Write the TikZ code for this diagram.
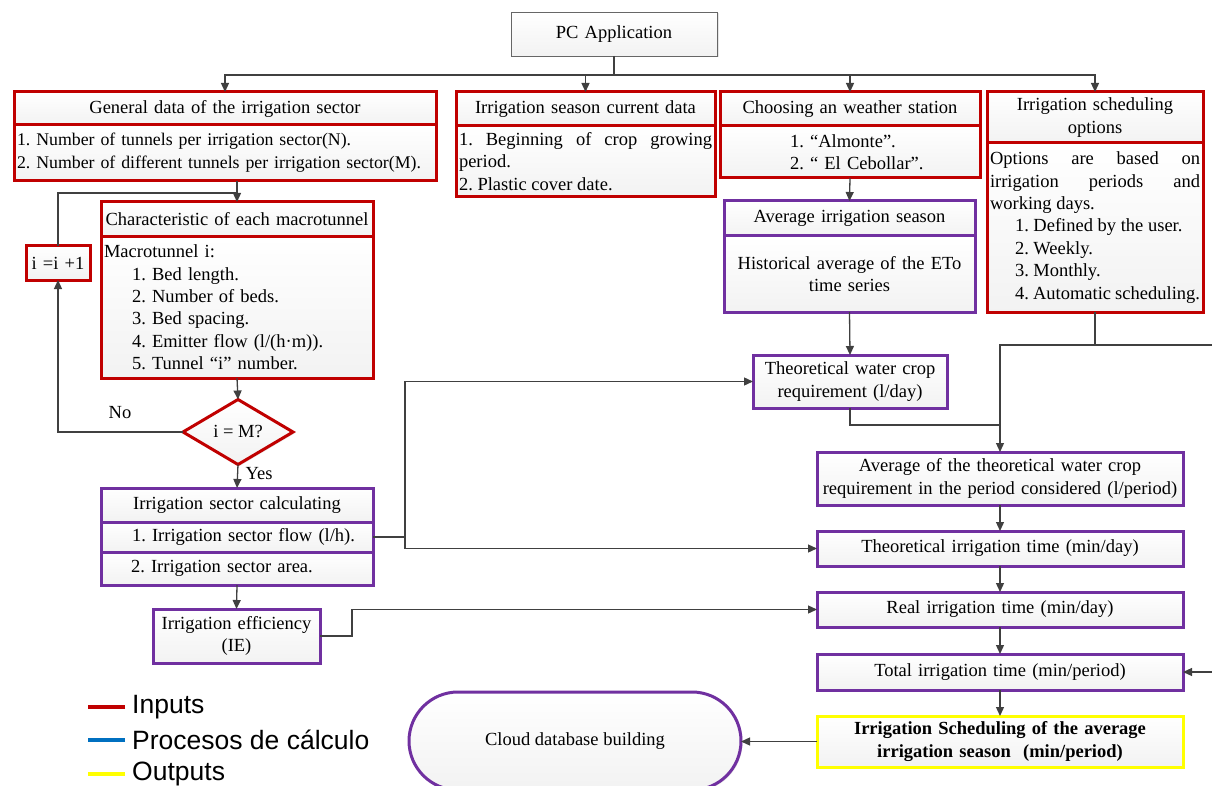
\documentclass[tikz,border=0pt]{standalone}
\usepackage{fontspec}
\setmainfont{Liberation Serif}
\setsansfont{Liberation Sans}
\usetikzlibrary{arrows.meta,shapes.geometric,shadows,positioning}
\definecolor{inred}{HTML}{C00000}
\definecolor{calcpurple}{HTML}{7030A0}
\definecolor{calcblue}{HTML}{0070C0}
\definecolor{outyellow}{HTML}{FFFF00}
\definecolor{linegray}{HTML}{404040}
\newcommand\fs{\fontsize{18.5}{22.4}\selectfont}
\newcommand\legfs{\sffamily\fontsize{26.5}{30}\selectfont}
\frenchspacing
\hyphenpenalty=10000
\tolerance=10000
\tikzset{
  box/.style={draw, line width=3pt, outer sep=0pt, inner xsep=3pt, inner ysep=1pt,
    top color=white, bottom color=gray!10, font=\fs, align=center,
    drop shadow={shadow xshift=1.5pt, shadow yshift=-1.5pt, opacity=0.2}},
  sz/.style 2 args={minimum width=#1pt, minimum height=#2pt, text width=#1pt-6pt},
  part/.style={anchor=north west},
  inbox/.style={box, draw=inred},
  calcbox/.style={box, draw=calcpurple},
  outbox/.style={box, draw=outyellow},
  wire/.style={draw=linegray, line width=1.3pt},
  flow/.style={wire, -{Triangle[length=9pt,width=8pt]}},
}
\begin{document}
\begin{tikzpicture}[x=1pt, y=-1pt]
  \useasboundingbox (0,0) rectangle (1212,786);
  % top
  \node[box, draw=linegray!80, line width=0.8pt, sz={206}{44}, part] (pc) at (511,12) {PC Application};
  % inputs
  \node[inbox, sz={422}{33}, part] (gen-h) at (14,92) {General data of the irrigation sector};
  \node[inbox, sz={422}{56}, part, align=left, font=\fontsize{17.8}{22.8}\selectfont] (gen-b) at (gen-h.south west)
    {1. Number of tunnels per irrigation sector(N).\\\mbox{2. Number of different tunnels per irrigation sector(M).}};
  \node[inbox, sz={259}{34}, part] (sea-h) at (456,92) {Irrigation season current data};
  \node[inbox, sz={259}{71}, part, align=justify] (sea-b) at (sea-h.south west)
    {1. Beginning of crop growing period.\\2. Plastic cover date.};
  \node[inbox, sz={260}{34}, part] (wea-h) at (720,92) {Choosing an weather station};
  \node[inbox, sz={260}{52}, part, align=left] (wea-b) at (wea-h.south west)
    {\hspace*{67pt}1. “Almonte”.\\\hspace*{67pt}2. “ El Cebollar”.};
  \node[inbox, sz={216}{51}, part] (sch-h) at (987,92) {Irrigation scheduling\\options};
  \node[inbox, sz={216}{169}, part, align=justify] (sch-b) at (sch-h.south west)
    {Options are based on irrigation periods and working days.\\
     \hspace*{25pt}1. Defined by the user.\\\hspace*{25pt}2. Weekly.\\
     \hspace*{25pt}3. Monthly.\\\hspace*{25pt}4. Automatic scheduling.};
  \node[inbox, sz={272}{35}, part] (char-h) at (101,202) {Characteristic of each macrotunnel};
  \node[inbox, sz={272}{141}, part, align=left] (char-b) at (char-h.south west)
    {Macrotunnel i:\\\hspace*{28pt}1. Bed length.\\\hspace*{28pt}2. Number of beds.\\
     \hspace*{28pt}3. Bed spacing.\\\hspace*{28pt}4. Emitter flow (l/(h·m)).\\
     \hspace*{28pt}5. Tunnel “i” number.};
  \node[inbox, sz={64}{34}, part] (inc) at (26,246) {i =i +1};
  \node[inbox, diamond, aspect=1.7, inner sep=0pt, minimum width=110pt, minimum height=65pt] (dia) at (238,432) {i = M?};
  % calculations
  \node[calcbox, sz={251}{35}, part] (avg-h) at (724,201) {Average irrigation season};
  \node[calcbox, sz={251}{76}, part] (avg-b) at (avg-h.south west) {Historical average of the ETo\\time series};
  \node[calcbox, sz={272}{34}, part] (sec-h) at (101,488) {Irrigation sector calculating};
  \node[calcbox, sz={272}{30}, part, align=left] (sec-1) at (sec-h.south west) {\hspace*{28pt}1. Irrigation sector flow (l/h).};
  \node[calcbox, sz={272}{33}, part, align=left] (sec-2) at (sec-1.south west) {\hspace*{27pt}2. Irrigation sector area.};
  \node[calcbox, sz={167}{54}, part] (ie) at (153,609) {Irrigation efficiency\\(IE)};
  \node[calcbox, sz={194}{53}, part] (twcr) at (753,355) {Theoretical water crop\\requirement (l/day)};
  \node[calcbox, sz={366}{53}, part] (atw) at (817,452) {Average of the theoretical water crop\\requirement in the period considered (l/period)};
  \node[calcbox, sz={366}{35}, part] (tit) at (817,531) {Theoretical irrigation time (min/day)};
  \node[calcbox, sz={366}{35}, part] (rit) at (817,592) {Real irrigation time (min/day)};
  \node[calcbox, sz={366}{36}, part] (tot) at (817,654) {Total irrigation time (min/period)};
  \node[outbox, sz={366}{51}, part, font=\fs\bfseries] (outp) at (817,716) {Irrigation Scheduling of the average\\irrigation season~ (min/period)};
  \node[calcbox, rounded corners=49pt, minimum width=332pt, minimum height=98pt] (cloud) at (575,741) {Cloud database building};
  % connectors
  \coordinate (bus) at (614,75);
  \draw[wire] (pc.south) -- (bus);
  \foreach \t in {gen-h,sea-h,wea-h,sch-h}
    \draw[flow] (bus) -| (\t.north);
  \coordinate (loop) at (237,193);
  \draw[flow] (gen-b.south -| char-h.north) -- (char-h.north);
  \draw[wire] (inc.north) |- (loop);
  \draw[flow] (char-b.south) -- (dia.north);
  \draw[flow] (dia.west) -| (inc.south);
  \node[font=\fs] (no) at (120,413) {No};
  \draw[flow] (dia.south) -- (sec-h.north);
  \node[font=\fs] (yes) at (259,474) {Yes};
  \draw[flow] (sec-2.south) -- (ie.north);
  \draw[flow] (sec-1.east) -- ++(32,0) |- (twcr.west);
  \draw[flow] (sec-1.east) -- ++(32,0) |- (tit.west);
  \draw[flow] (ie.east) -- ++(32,0) |- (rit.west);
  \draw[flow] (wea-b.south) -- (avg-h.north);
  \draw[flow] (avg-b.south) -- (twcr.north);
  \coordinate (tap) at (1095,345);
  \coordinate (offright) at (1232,345);
  \coordinate (merge) at (1000,425);
  \draw[wire] (sch-b.south) -- (tap);
  \draw[flow] (tap) -| (atw.north);
  \draw[flow] (tap) -- (offright) |- (tot.east);
  \draw[wire] (twcr.south) |- (merge);
  \foreach \a/\b in {atw/tit,tit/rit,rit/tot,tot/outp}
    \draw[flow] (\a.south) -- (\b.north);
  \draw[flow] (outp.west) -- (outp.west -| cloud.east);
  % legend
  \foreach \c/\y/\t in {inred/707/Inputs,calcblue/740/Procesos de cálculo,outyellow/774/Outputs}{
    \node[font=\legfs, anchor=west, inner sep=0pt] (leg-\y) at (132,\y) {\t};
    \draw[\c, line width=3.5pt] (leg-\y.west) ++(-7,0) -- ++(-37,0);
  }
\end{tikzpicture}
\end{document}
